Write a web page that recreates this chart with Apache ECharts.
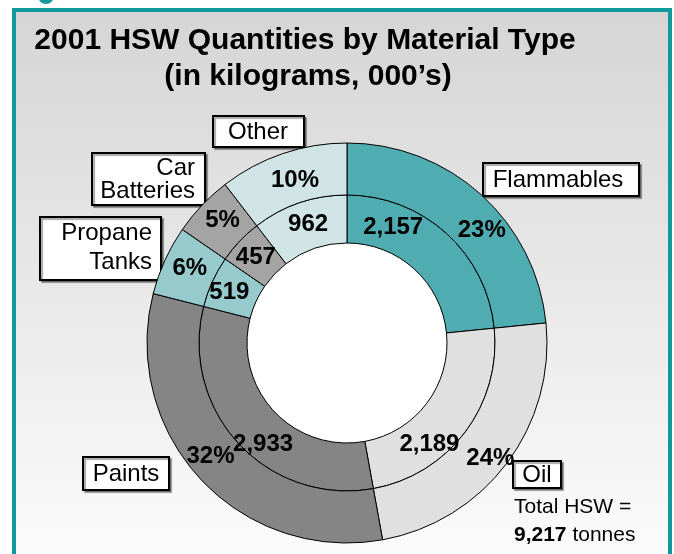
<!DOCTYPE html>
<html>
<head>
<meta charset="utf-8">
<script src="https://cdn.jsdelivr.net/npm/echarts@6/dist/echarts.min.js"></script>
<style>
  html, body { margin: 0; padding: 0; background: #fff; }
  #chart { width: 674px; height: 554px; }
</style>
</head>
<body>
<div id="chart"></div>
<script>
// data (thousands of kg)
const categories = ['Flammables', 'Oil', 'Paints', 'Propane Tanks', 'Car Batteries', 'Other']
const quantities = [2157, 2189, 2933, 519, 457, 962]
const sliceColors = ['#4fadb1', '#e0e0e0', '#858585', '#97cacd', '#a4a4a4', '#d0e4e6']

const total = quantities.reduce((a, b) => a + b, 0)
const fmt = (v) => v.toLocaleString('en-US')

// small nudges so labels sit where the original put them
const innerNudge = [[-39, -21], [-19, 25], [9, 15], [-2, 2], [1, 2], [2, 2]]
const outerNudge = [[16, 19], [2, 9], [-7, -7], [4, -1], [4, -1], [5, 5]]

// boxes for the category names: [x, y, w, h, textX, textY, align, lineHeight]
const boxes = [
    [483, 163, 156, 33, 558, 180, 'center', 24],
    [513, 461, 48, 27, 537, 475, 'center', 24],
    [83, 457, 86, 33, 126, 474, 'center', 24],
    [40, 217, 121, 63, 152, 248, 'right', 29],
    [92, 153, 113, 52, 195, 180, 'right', 23],
    [213, 116, 91, 31, 258, 132, 'center', 24],
]

const pieData = categories.map((name, i) => ({
    name,
    value: quantities[i],
    itemStyle: { color: sliceColors[i] },
}))

const fontFamily = '"Liberation Sans", Arial, sans-serif'
const center = [347, 343]

const chart = echarts.init(document.getElementById('chart'))

const boxGraphics = boxes.map((b, i) => ({
    type: 'group',
    z: 100,
    children: [
        {
            type: 'rect',
            shape: { x: b[0], y: b[1], width: b[2], height: b[3] },
            style: {
                fill: '#fff',
                stroke: '#000',
                lineWidth: 2,
                shadowColor: 'rgba(0,0,0,0.35)',
                shadowOffsetX: 2,
                shadowOffsetY: 2,
                shadowBlur: 1,
            },
        },
        {
            type: 'text',
            style: {
                x: b[4],
                y: b[5],
                text: categories[i].replace(' ', '\n'),
                font: '24px ' + fontFamily,
                fill: '#000',
                align: b[6],
                verticalAlign: 'middle',
                lineHeight: b[7],
            },
        },
    ],
}))

chart.setOption({
    animation: false,
    backgroundColor: '#fff',
    graphic: [
        {
            type: 'rect',
            z: -10,
            shape: { x: 14, y: 10, width: 656, height: 570 },
            style: {
                fill: new echarts.graphic.LinearGradient(0, 0, 0, 1, [
                    { offset: 0, color: '#d5d5d5' },
                    { offset: 1, color: '#fdfdfd' },
                ]),
                stroke: '#11999b',
                lineWidth: 4,
            },
        },
        {
            type: 'circle',
            z: -10,
            shape: { cx: 46, cy: -4, r: 8 },
            style: { fill: '#11999b' },
        },
        // white hole of the donut
        {
            type: 'circle',
            z: -5,
            shape: { cx: center[0], cy: center[1], r: 100 },
            style: { fill: '#fff' },
        },
        {
            type: 'text',
            z: 100,
            style: {
                x: 305,
                y: 41,
                text: '2001 HSW Quantities by Material Type',
                font: 'bold 30px ' + fontFamily,
                fill: '#000',
                align: 'center',
                verticalAlign: 'middle',
            },
        },
        {
            type: 'text',
            z: 100,
            style: {
                x: 308,
                y: 77,
                text: '(in kilograms, 000\u2019s)',
                font: 'bold 30px ' + fontFamily,
                fill: '#000',
                align: 'center',
                verticalAlign: 'middle',
            },
        },
        {
            type: 'text',
            z: 100,
            style: {
                x: 514,
                y: 507,
                text: 'Total HSW =',
                font: '21px ' + fontFamily,
                fill: '#000',
                verticalAlign: 'middle',
            },
        },
        {
            type: 'text',
            z: 100,
            style: {
                x: 514,
                y: 535,
                text: '{b|' + fmt(total) + '} tonnes',
                font: '21px ' + fontFamily,
                fill: '#000',
                verticalAlign: 'middle',
                rich: {
                    b: { fontWeight: 'bold', fontSize: 21, fontFamily: fontFamily },
                },
            },
        },
        ...boxGraphics,
    ],
    series: [
        // inner ring: quantities
        {
            type: 'pie',
            center: center,
            radius: [100, 148],
            startAngle: 90,
            silent: true,
            data: pieData,
            itemStyle: { borderColor: '#000', borderWidth: 1 },
            label: {
                show: true,
                position: 'inside',
                formatter: (p) => fmt(p.value),
                fontWeight: 'bold',
                fontSize: 24,
                fontFamily: fontFamily,
                color: '#000',
            },
            labelLine: { show: false },
            labelLayout: (p) => ({ dx: innerNudge[p.dataIndex][0], dy: innerNudge[p.dataIndex][1] }),
        },
        // outer ring: share of total
        {
            type: 'pie',
            center: center,
            radius: [148, 200],
            startAngle: 90,
            silent: true,
            data: pieData,
            itemStyle: { borderColor: '#000', borderWidth: 1 },
            label: {
                show: true,
                position: 'inside',
                formatter: (p) => Math.round((p.value / total) * 100) + '%',
                fontWeight: 'bold',
                fontSize: 24,
                fontFamily: fontFamily,
                color: '#000',
            },
            labelLine: { show: false },
            labelLayout: (p) => ({ dx: outerNudge[p.dataIndex][0], dy: outerNudge[p.dataIndex][1] }),
        },
    ],
})
</script>
</body>
</html>
